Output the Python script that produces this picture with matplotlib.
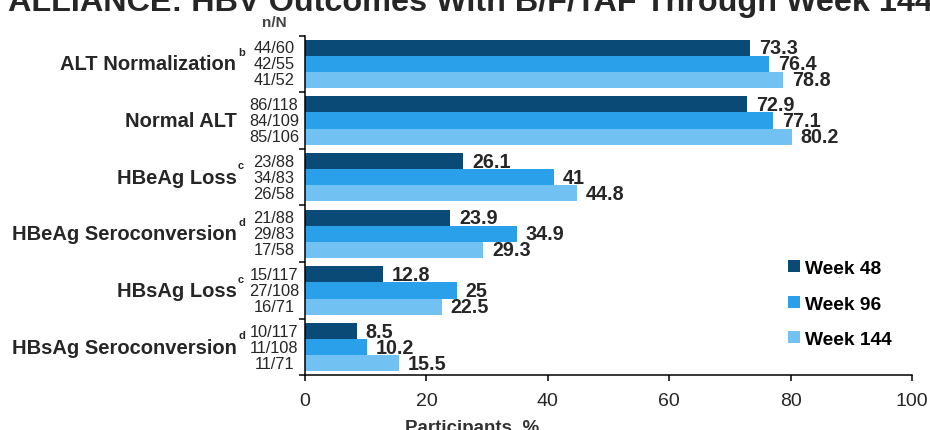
import matplotlib
matplotlib.use("Agg")
import matplotlib.pyplot as plt
import matplotlib.transforms as mtransforms
from matplotlib.patches import Patch

plt.rcParams["font.family"] = ["Liberation Sans", "DejaVu Sans"]

#### Data ####

categories = [
    "ALT Normalization",
    "Normal ALT",
    "HBeAg Loss",
    "HBeAg Seroconversion",
    "HBsAg Loss",
    "HBsAg Seroconversion",
]
footnotes = ["b", "", "c", "d", "c", "d"]
series_names = ["Week 48", "Week 96", "Week 144"]

week48 = [73.3, 72.9, 26.1, 23.9, 12.8, 8.5]
week96 = [76.4, 77.1, 41, 34.9, 25, 10.2]
week144 = [78.8, 80.2, 44.8, 29.3, 22.5, 15.5]

nN_week48 = ["44/60", "86/118", "23/88", "21/88", "15/117", "10/117"]
nN_week96 = ["42/55", "84/109", "34/83", "29/83", "27/108", "11/108"]
nN_week144 = ["41/52", "85/106", "26/58", "17/58", "16/71", "11/71"]

x_ticks = [0, 20, 40, 60, 80, 100]

#### Style ####

colors = ["#0A4A77", "#2A9FEA", "#72C1F3"]
text_color = "#262626"
narrow = ["Liberation Sans Narrow", "Liberation Sans", "DejaVu Sans"]

#### Plot ####

fig = plt.figure(figsize=(9.3, 4.31), dpi=100)
ax = fig.add_axes([0.328, 0.1265, 0.6526, 0.7888])

bar_h = 0.283
series = [week48, week96, week144]
labels_nN = [nN_week48, nN_week96, nN_week144]
trans_lbl = mtransforms.blended_transform_factory(fig.transFigure, ax.transData)

for s, (vals, nn) in enumerate(zip(series, labels_nN)):
    ys = [i + 0.5 + (s - 1) * bar_h for i in range(len(categories))]
    ax.barh(ys, vals, height=bar_h, color=colors[s], label=series_names[s],
            edgecolor="none")
    for y, v, t in zip(ys, vals, nn):
        ax.annotate(f"{v:g}", (v, y), xytext=(6.5, 0), textcoords="offset points",
                    va="center", ha="left", fontsize=14.2, fontweight="bold",
                    color=text_color)
        ax.text(274 / 930, y, t, transform=trans_lbl, ha="center", va="center",
                fontsize=11.8, color=text_color)

# category labels with footnote letters
for i, (cat, fn) in enumerate(zip(categories, footnotes)):
    ax.text(236.5 / 930, i + 0.5, cat, transform=trans_lbl, ha="right",
            va="center", fontsize=14.5, fontweight="bold", color=text_color)
    if fn:
        ax.annotate(fn, (238 / 930, i + 0.5), xycoords=trans_lbl,
                    xytext=(0, 8.5), textcoords="offset points", ha="left",
                    va="center", fontsize=8, fontweight="bold", color=text_color)

fig.text(274 / 930, 1 - 23 / 431, "n/N", ha="center", va="center",
         fontsize=11, fontweight="bold", color="#444444", family=narrow)

ax.set_xlim(0, 100)
ax.set_ylim(len(categories), 0)
ax.set_yticks(range(len(categories) + 1))
ax.set_yticklabels([])
ax.set_xticks(x_ticks)
ax.set_xticklabels([str(t) for t in x_ticks], family=narrow, fontsize=14,
                   color=text_color)
ax.tick_params(axis="both", direction="out", length=4, width=1.1, color="black")
ax.tick_params(axis="x", pad=8)

for side in ["top", "right"]:
    ax.spines[side].set_visible(False)
for side in ["left", "bottom"]:
    ax.spines[side].set_linewidth(1.1)
    ax.spines[side].set_color("black")

ax.set_xlabel("Participants, %", fontsize=13.5, fontweight="bold",
              color="#333333", family=narrow)
ax.xaxis.set_label_coords(0.275, -0.128)

handles = [Patch(facecolor=c, edgecolor="none") for c in colors]
fig.legend(handles, series_names, loc="center left",
           bbox_to_anchor=(788 / 930, 1 - 305 / 431), frameon=False,
           prop={"weight": "bold", "size": 13.8}, handlelength=0.6,
           handleheight=0.6, handletextpad=0.3, labelspacing=0.96,
           borderpad=0, borderaxespad=0)

fig.text(0.009, 1 - 11.5 / 431,
         "ALLIANCE: HBV Outcomes With B/F/TAF Through Week 144",
         ha="left", va="baseline", fontsize=23.3, fontweight="bold",
         color=text_color)

plt.savefig("out.png", dpi=100)
plt.close()
